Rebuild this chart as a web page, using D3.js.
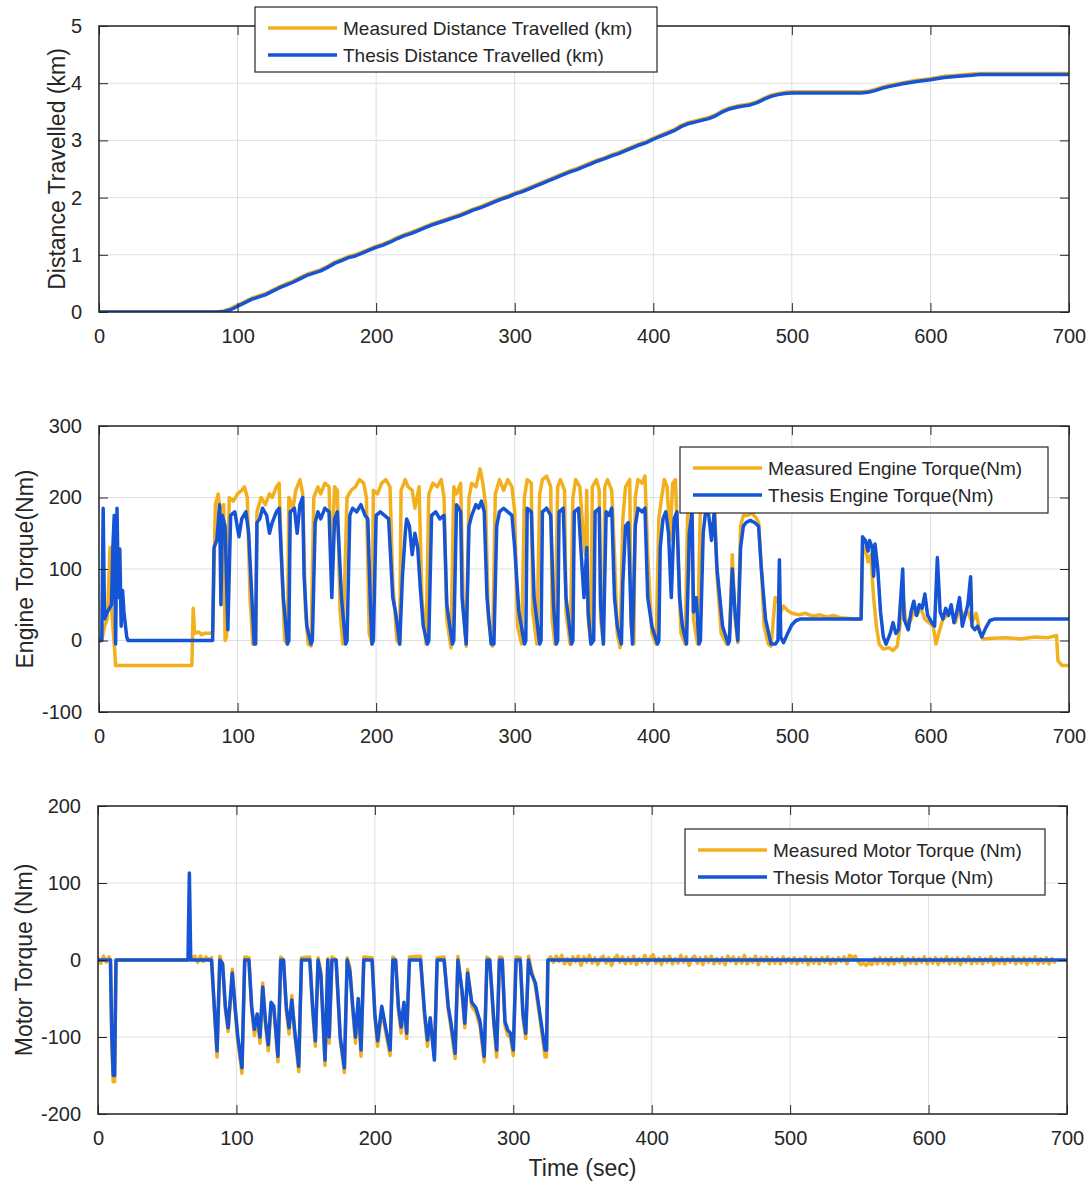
<!DOCTYPE html>
<html>
<head>
<meta charset="utf-8">
<title>Measured vs Thesis</title>
<script src="https://cdn.jsdelivr.net/npm/d3@7"></script>
<style>
  body { margin: 0; background: #fff; }
  text { font-family: "Liberation Sans", Arial, sans-serif; fill: #262626; }
</style>
</head>
<body>
<script>

// ---- data (time in sec) ----

var timeTicks = [0, 100, 200, 300, 400, 500, 600, 700];
var distTicks = [0, 1, 2, 3, 4, 5];
var engineTicks = [-100, 0, 100, 200, 300];
var motorTicks = [-200, -100, 0, 100, 200];

var distMeasured = [[0,0],[85,0],[90,0.02],[95,0.06],[100,0.12],[105,0.18],[110,0.24],[115,0.28],[120,0.32],[125,0.38],[130,0.44],[135,0.49],[140,0.54],[145,0.6],[150,0.66],[155,0.7],[160,0.74],[165,0.8],[170,0.87],[175,0.92],[180,0.97],[185,1.0],[190,1.05],[195,1.1],[200,1.15],[205,1.19],[210,1.24],[215,1.3],[220,1.35],[225,1.39],[230,1.44],[235,1.49],[240,1.54],[245,1.58],[250,1.62],[255,1.66],[260,1.7],[265,1.75],[270,1.8],[275,1.84],[280,1.89],[285,1.94],[290,1.99],[295,2.03],[300,2.08],[305,2.12],[310,2.17],[315,2.22],[320,2.27],[325,2.32],[330,2.37],[335,2.42],[340,2.47],[345,2.51],[350,2.56],[355,2.61],[360,2.66],[365,2.7],[370,2.75],[375,2.79],[380,2.84],[385,2.89],[390,2.94],[395,2.98],[400,3.04],[405,3.09],[410,3.14],[415,3.19],[420,3.26],[425,3.31],[430,3.34],[435,3.37],[440,3.4],[445,3.45],[450,3.52],[455,3.57],[460,3.6],[465,3.62],[470,3.64],[475,3.68],[480,3.74],[485,3.79],[490,3.82],[495,3.84],[500,3.85],[550,3.85],[555,3.86],[560,3.89],[565,3.93],[570,3.96],[580,4.01],[590,4.05],[600,4.08],[610,4.12],[620,4.14],[630,4.16],[635,4.17],[700,4.17]];

var distThesis = [[0,0],[85,0],[90,0.01],[95,0.04],[100,0.1],[105,0.16],[110,0.22],[115,0.26],[120,0.3],[125,0.36],[130,0.42],[135,0.47],[140,0.52],[145,0.58],[150,0.64],[155,0.68],[160,0.72],[165,0.78],[170,0.85],[175,0.9],[180,0.95],[185,0.98],[190,1.03],[195,1.08],[200,1.13],[205,1.17],[210,1.22],[215,1.28],[220,1.33],[225,1.37],[230,1.42],[235,1.47],[240,1.52],[245,1.56],[250,1.6],[255,1.64],[260,1.68],[265,1.73],[270,1.78],[275,1.82],[280,1.87],[285,1.92],[290,1.97],[295,2.01],[300,2.06],[305,2.1],[310,2.15],[315,2.2],[320,2.25],[325,2.3],[330,2.35],[335,2.4],[340,2.45],[345,2.49],[350,2.54],[355,2.59],[360,2.64],[365,2.68],[370,2.73],[375,2.77],[380,2.82],[385,2.87],[390,2.92],[395,2.96],[400,3.02],[405,3.07],[410,3.12],[415,3.17],[420,3.24],[425,3.29],[430,3.32],[435,3.35],[440,3.38],[445,3.43],[450,3.5],[455,3.55],[460,3.58],[465,3.6],[470,3.62],[475,3.66],[480,3.72],[485,3.77],[490,3.8],[495,3.82],[500,3.83],[550,3.83],[555,3.84],[560,3.87],[565,3.91],[570,3.94],[580,3.99],[590,4.03],[600,4.06],[610,4.1],[620,4.12],[630,4.14],[635,4.15],[700,4.15]];

var engMeasured = [[0,0],[2,0],[4,20],[6,30],[8,130],[9,45],[11,-5],[12,-35],[67,-35],[68,45],[69,10],[72,12],[74,8],[76,10],[80,10],[82,12],[84,190],[86,205],[88,170],[90,190],[91,0],[92,5],[94,200],[97,195],[100,205],[103,210],[105,215],[107,200],[109,60],[111,-5],[113,-5],
[114,180],[117,200],[120,190],[123,205],[125,200],[128,215],[130,220],[132,100],[134,0],[136,-5],
[137,200],[140,185],[142,210],[145,225],[147,205],[149,40],[151,-5],[153,-8],
[155,200],[158,215],[160,205],[163,220],[166,215],[168,100],[170,215],[172,210],[174,40],[176,-5],
[179,200],[182,210],[185,215],[188,225],[191,220],[193,200],[195,10],[197,-5],
[198,210],[201,205],[204,220],[207,225],[210,215],[212,80],[215,0],[217,-5],
[218,210],[221,225],[223,215],[226,210],[228,185],[231,215],[233,60],[236,-5],
[238,205],[241,220],[244,215],[247,225],[249,200],[251,30],[254,-10],
[256,215],[258,205],[261,220],[263,40],[265,-8],
[267,200],[269,220],[272,215],[275,240],[277,220],[279,190],[281,30],[284,-8],
[286,205],[289,225],[292,210],[295,225],[298,215],[300,180],[302,20],[305,-5],
[307,200],[309,225],[312,220],[313,40],[316,-5],
[318,205],[320,225],[323,230],[326,215],[327,30],[329,-5],
[331,215],[333,225],[336,210],[337,40],[340,-5],
[342,200],[344,225],[347,215],[349,160],[351,120],[352,210],[353,30],[355,-5],
[356,215],[359,225],[361,210],[362,30],[364,-5],
[365,215],[367,225],[370,210],[372,120],[374,10],[376,-10],
[378,170],[380,215],[383,225],[384,20],[386,-5],
[387,200],[389,225],[392,220],[394,230],[396,120],[399,10],[402,-5],
[404,170],[406,200],[408,225],[410,215],[412,140],[414,220],[416,225],[418,110],[420,10],[423,-5],
[425,200],[427,225],[429,30],[432,-5],
[434,190],[436,215],[438,225],[440,205],[442,180],[444,200],[446,90],[449,10],[453,-5],
[455,10],[457,120],[459,30],[461,-3],[463,160],[465,175],[468,175],[471,178],[474,172],[476,165],[478,100],[480,20],[483,-5],[485,-8],
[488,60],[490,55],[492,40],[494,48],[497,42],[500,38],[505,36],[510,38],[515,34],[520,36],[525,33],[530,35],[535,32],[540,31],[545,30],[550,30],
[551,120],[553,130],[555,110],[557,120],[559,60],[561,20],[563,-5],[566,-12],[570,-10],[573,-14],[576,-8],[578,20],[580,70],[582,30],[585,25],[588,40],[590,35],[593,45],[596,30],[599,25],[602,20],[604,-5],[606,10],[609,30],[612,35],[615,40],[618,25],[621,45],[624,35],[627,40],[630,25],[633,38],[636,10],[638,2],[645,3],[655,4],[665,2],[675,5],[685,4],[691,7],[692,-28],[695,-35],[700,-35]];

var engThesis = [[0,0],[2,0],[3,185],[4,30],[6,40],[9,50],[10,130],[11,175],[12,-5],[13,185],[14,60],[15,128],[16,20],[17,70],[18,40],[20,5],[21,0],[82,0],
[83,130],[85,140],[87,190],[88,50],[89,175],[91,160],[93,15],[95,175],[98,180],[101,145],[103,170],[106,180],[108,150],[112,-5],[113,-5],
[114,165],[116,170],[118,185],[121,175],[123,150],[125,165],[128,180],[130,185],[133,60],[136,-5],
[137,0],[138,180],[141,185],[143,150],[145,190],[147,200],[148,90],[150,20],[153,-5],
[154,0],[156,165],[158,180],[160,170],[163,185],[166,180],[168,60],[170,170],[172,180],[175,60],[178,-5],
[179,0],[181,175],[183,185],[186,180],[189,190],[192,175],[194,170],[196,40],[197,-5],
[198,0],[200,175],[203,180],[206,175],[209,170],[212,60],[214,40],[217,-5],
[219,90],[221,150],[222,170],[224,160],[226,120],[228,150],[230,130],[232,70],[234,20],[237,-5],
[238,0],[240,175],[243,180],[246,170],[249,175],[251,50],[255,-5],
[256,0],[258,190],[261,180],[262,60],[265,-5],
[267,160],[269,175],[272,190],[274,185],[276,195],[278,180],[280,60],[283,-5],[285,-5],
[287,160],[289,180],[292,185],[295,180],[298,175],[300,130],[303,40],[307,-5],
[308,0],[309,185],[312,180],[314,60],[318,-5],
[319,0],[320,180],[323,185],[326,175],[328,50],[330,-5],
[331,0],[332,180],[335,185],[337,60],[341,-5],
[342,0],[343,180],[346,185],[348,120],[350,60],[352,130],[353,40],[355,-5],
[357,0],[358,180],[361,185],[362,50],[364,-5],
[366,180],[368,175],[370,185],[372,60],[374,20],[377,-5],
[378,80],[380,160],[382,165],[384,30],[385,-5],
[387,160],[389,185],[392,180],[394,185],[396,60],[399,20],[403,-5],
[404,0],[405,130],[407,170],[409,180],[411,150],[413,60],[415,170],[417,180],[419,60],[421,20],[424,-5],
[426,150],[428,180],[429,40],[431,60],[433,-5],
[434,0],[436,150],[438,185],[440,175],[442,140],[444,180],[446,100],[450,20],[454,-5],
[455,0],[457,100],[459,40],[461,0],[463,130],[465,160],[467,165],[470,168],[473,165],[476,160],[478,100],[481,30],[485,-5],
[488,-5],[490,0],[491,113],[492,5],[494,-3],[497,10],[500,22],[503,28],[506,30],[550,30],
[551,145],[553,140],[555,125],[556,140],[558,130],[559,90],[560,135],[562,100],[564,40],[566,5],[568,-5],[571,10],[573,25],[575,10],[577,15],[580,100],[581,30],[584,15],[586,40],[588,55],[590,35],[592,50],[594,45],[596,65],[598,35],[601,25],[603,20],[605,116],[607,40],[609,30],[611,45],[613,35],[615,50],[617,25],[619,40],[621,60],[623,20],[625,35],[627,50],[629,89],[630,20],[632,15],[634,20],[637,5],[640,18],[643,28],[646,30],[700,30]];

var motMeasured = [[0,3],[2,-4],[4,5],[6,-3],[8,4],[9,0],[10,-110],[11,-158],[12,-158],[13,0],[15,0],[65,0],[68,2],[70,5],[72,-3],[74,5],[76,-2],[78,4],[80,0],[82,3],
[84,-65],[86,-126],[88,5],[90,-5],[92,-65],[94,-93],[96,-45],[97,-12],[99,-65],[101,-105],[104,-147],[106,4],[109,3],[111,-65],[113,-98],[115,-75],[117,-108],[119,-30],[121,-85],[123,-118],[125,-60],[127,-65],[130,-132],[132,4],[134,0],[136,-65],[138,-96],[140,-46],[142,-95],[145,-145],[147,3],[153,4],[155,-65],[157,-112],[159,3],[161,-15],[164,-137],[166,2],[167,-108],[169,4],[172,0],[175,-105],[178,-146],[180,3],[182,-10],[184,-65],[186,-108],[188,-55],[190,-125],[192,4],[198,3],[200,-75],[202,-112],[205,-65],[208,-95],[211,-124],[213,4],[215,0],[217,-65],[219,-95],[221,-60],[223,-102],[225,4],[233,5],[236,-75],[238,-112],[240,-80],[243,-126],[245,3],[250,4],[253,-65],[255,-88],[258,-128],[260,5],[263,-45],[265,-88],[267,-12],[270,-60],[273,-68],[276,-86],[279,-132],[281,4],[283,0],[286,-85],[288,-126],[290,4],[292,3],[294,-85],[296,-98],[298,-100],[300,-124],[302,4],[305,3],[307,-75],[309,-102],[311,5],[313,-12],[316,-35],[320,-86],[323,-126],[324,-126],[325,0],
[327,4],[329,-3],[331,5],[333,-2],[335,6],[337,-5],[339,2],[341,-6],[343,4],[345,-2],[347,5],[349,-7],[351,4],[353,-3],[355,6],[357,-4],[359,3],[361,-6],[363,2],[365,5],[367,-4],[369,3],[371,-7],[373,2],[375,6],[377,-3],[379,4],[381,-5],[383,3],[385,-4],[387,5],[389,-6],[391,2],[393,-3],[395,6],[397,-5],[399,3],[401,7],[403,-4],[405,2],[407,-6],[409,4],[411,-3],[413,5],[415,-5],[417,2],[419,-4],[421,6],[423,-3],[425,4],[427,-7],[429,2],[431,5],[433,-4],[435,3],[437,-6],[439,4],[441,-3],[443,5],[445,-5],[447,2],[449,-4],[451,3],[453,-6],[455,5],[457,-2],[459,4],[461,-5],[463,3],[465,-4],[467,6],[469,-5],[471,2],[473,-3],[475,5],[477,-6],[479,3],[481,-2],[483,4],[485,-5],[487,3],[489,-4],[491,2],[493,-5],[495,4],[497,-3],[499,2],[501,-4],[503,3],[505,-5],[507,2],[509,-3],[511,4],[513,-6],[515,3],[517,-4],[519,2],[521,-5],[523,3],[525,-3],[527,4],[529,-5],[531,2],[533,-4],[535,3],[537,-2],[539,4],[541,-5],[543,6],[545,3],[547,5],[549,-2],[551,-6],[553,-4],[555,-7],[557,-3],[559,-6],[561,2],[563,-5],[565,3],[567,-4],[569,2],[571,-6],[573,3],[575,-5],[577,2],[579,-3],[581,4],[583,-6],[585,2],[587,-4],[589,3],[591,-5],[593,2],[595,-3],[597,4],[599,-5],[601,2],[603,-4],[605,3],[607,-6],[609,2],[611,-3],[613,4],[615,-5],[617,2],[619,-4],[621,3],[623,-6],[625,2],[627,-3],[629,4],[631,-5],[633,2],[635,-4],[637,3],[639,-5],[641,2],[643,-3],[645,4],[647,-6],[649,2],[651,-4],[653,3],[655,-5],[657,2],[659,-3],[661,4],[663,-5],[665,2],[667,-4],[669,3],[671,-6],[673,2],[675,-3],[677,4],[679,-5],[681,2],[683,-4],[685,3],[687,-5],[689,2],[691,-3],[692,1]];

var motThesis = [[0,0],[9,0],[10,-100],[11,-150],[12,-150],[13,0],[65,0],[66,113],[67,0],[82,0],
[84,-60],[86,-118],[88,0],[90,-5],[92,-60],[94,-88],[96,-40],[97,-17],[99,-60],[101,-100],[104,-140],[106,0],[109,0],[111,-60],[113,-90],[115,-70],[117,-100],[119,-35],[121,-80],[123,-110],[125,-55],[127,-60],[130,-125],[132,0],[134,0],[136,-60],[138,-88],[140,-52],[142,-90],[145,-138],[147,0],[153,0],[155,-60],[157,-105],[159,0],[161,-20],[164,-130],[166,0],[167,-100],[169,0],[172,0],[175,-100],[178,-140],[180,0],[182,-15],[184,-60],[186,-100],[188,-50],[190,-117],[192,0],[198,0],[200,-70],[202,-105],[205,-60],[208,-90],[211,-117],[213,0],[215,0],[217,-60],[219,-87],[221,-55],[223,-95],[225,0],[233,0],[236,-70],[238,-104],[240,-75],[243,-130],[245,0],[250,0],[253,-60],[255,-82],[258,-121],[260,0],[263,-40],[265,-82],[267,-17],[270,-55],[273,-62],[276,-80],[279,-125],[281,0],[283,0],[286,-80],[288,-117],[290,0],[292,0],[294,-80],[296,-91],[298,-95],[300,-117],[302,0],[305,0],[307,-70],[309,-95],[311,0],[313,-17],[316,-30],[320,-80],[323,-117],[324,-117],[325,0],[700,0]];

// ---- drawing ----

var W = 1090, H = 1186;
var measuredColor = "#f2b01e";
var thesisColor = "#1654d6";
var fmt = function(d) { return String(d); }; // plain hyphen minus, like matlab

var svg = d3.select("body").append("svg")
  .attr("width", W)
  .attr("height", H);

// one subplot
function drawPanel(p) {
  var x = d3.scaleLinear().domain([0, 700]).range([p.left, p.right]);
  var y = d3.scaleLinear().domain(p.yDomain).range([p.bottom, p.top]);

  var g = svg.append("g");

  // clip so the traces stay in the box
  g.append("clipPath").attr("id", p.id + "-clip")
    .append("rect")
    .attr("x", p.left).attr("y", p.top)
    .attr("width", p.right - p.left).attr("height", p.bottom - p.top);

  // grid
  g.selectAll(".vgrid").data(timeTicks).enter().append("line")
    .attr("x1", d => x(d)).attr("x2", d => x(d))
    .attr("y1", p.top).attr("y2", p.bottom)
    .attr("stroke", "#dedede").attr("stroke-width", 1);
  g.selectAll(".hgrid").data(p.yTicks).enter().append("line")
    .attr("y1", d => y(d)).attr("y2", d => y(d))
    .attr("x1", p.left).attr("x2", p.right)
    .attr("stroke", "#dedede").attr("stroke-width", 1);

  // traces
  var line = d3.line().x(d => x(d[0])).y(d => y(d[1]));
  var traces = g.append("g").attr("clip-path", "url(#" + p.id + "-clip)");
  traces.append("path").datum(p.measured)
    .attr("d", line).attr("fill", "none")
    .attr("stroke", measuredColor).attr("stroke-width", 3.5)
    .attr("stroke-linejoin", "round");
  traces.append("path").datum(p.thesis)
    .attr("d", line).attr("fill", "none")
    .attr("stroke", thesisColor).attr("stroke-width", 3.5)
    .attr("stroke-linejoin", "round");

  // axes, ticks pointing inward like matlab
  var tl = 9;
  g.append("g").attr("transform", "translate(0," + p.bottom + ")")
    .call(d3.axisBottom(x).tickValues(timeTicks).tickSizeInner(-tl).tickSizeOuter(0).tickPadding(tl + 8).tickFormat(fmt));
  g.append("g").attr("transform", "translate(0," + p.top + ")")
    .call(d3.axisTop(x).tickValues(timeTicks).tickSizeInner(-tl).tickSizeOuter(0).tickFormat(""));
  g.append("g").attr("transform", "translate(" + p.left + ",0)")
    .call(d3.axisLeft(y).tickValues(p.yTicks).tickSizeInner(-tl).tickSizeOuter(0).tickPadding(tl + 8).tickFormat(fmt));
  g.append("g").attr("transform", "translate(" + p.right + ",0)")
    .call(d3.axisRight(y).tickValues(p.yTicks).tickSizeInner(-tl).tickSizeOuter(0).tickFormat(""));

  g.selectAll(".domain").remove();
  g.selectAll(".tick line").attr("stroke", "#262626").attr("stroke-width", 1);
  g.selectAll(".tick text")
    .attr("font-family", "Liberation Sans, Arial, sans-serif")
    .attr("font-size", 20).attr("fill", "#333");

  g.append("rect")
    .attr("x", p.left).attr("y", p.top)
    .attr("width", p.right - p.left).attr("height", p.bottom - p.top)
    .attr("fill", "none").attr("stroke", "#262626").attr("stroke-width", 1.5);

  // y label
  g.append("text")
    .attr("transform", "translate(" + p.labelX + "," + ((p.top + p.bottom) / 2) + ") rotate(-90)")
    .attr("text-anchor", "middle")
    .attr("dy", "0.35em")
    .attr("font-size", 23)
    .text(p.yLabel);

  // legend
  var L = p.legend;
  var lg = g.append("g");
  lg.append("rect")
    .attr("x", L.x).attr("y", L.y).attr("width", L.w).attr("height", L.h)
    .attr("fill", "#fff").attr("stroke", "#262626").attr("stroke-width", 1.2);
  var items = [
    { name: L.names[0], color: measuredColor },
    { name: L.names[1], color: thesisColor }
  ];
  items.forEach(function(it, i) {
    var yy = L.y + 21 + i * 27;
    lg.append("line")
      .attr("x1", L.x + 13).attr("x2", L.x + 82)
      .attr("y1", yy).attr("y2", yy)
      .attr("stroke", it.color).attr("stroke-width", 3.5);
    lg.append("text")
      .attr("x", L.x + 88).attr("y", yy)
      .attr("dy", "0.36em")
      .attr("font-size", 19)
      .text(it.name);
  });

  return x;
}

drawPanel({
  id: "dist", left: 99, right: 1069, top: 26, bottom: 312,
  yDomain: [0, 5], yTicks: distTicks, labelX: 57,
  yLabel: "Distance Travelled (km)",
  measured: distMeasured, thesis: distThesis,
  legend: { x: 255, y: 7, w: 402, h: 65,
    names: ["Measured Distance Travelled (km)", "Thesis Distance Travelled (km)"] }
});

drawPanel({
  id: "eng", left: 99, right: 1069, top: 426, bottom: 712,
  yDomain: [-100, 300], yTicks: engineTicks, labelX: 25,
  yLabel: "Engine Torque(Nm)",
  measured: engMeasured, thesis: engThesis,
  legend: { x: 680, y: 447, w: 368, h: 66,
    names: ["Measured Engine Torque(Nm)", "Thesis Engine Torque(Nm)"] }
});

var xBottom = drawPanel({
  id: "mot", left: 98, right: 1067, top: 806, bottom: 1114,
  yDomain: [-200, 200], yTicks: motorTicks, labelX: 24,
  yLabel: "Motor Torque (Nm)",
  measured: motMeasured, thesis: motThesis,
  legend: { x: 685, y: 829, w: 360, h: 66,
    names: ["Measured Motor Torque (Nm)", "Thesis Motor Torque (Nm)"] }
});

svg.append("text")
  .attr("x", xBottom(350)).attr("y", 1176)
  .attr("text-anchor", "middle")
  .attr("font-size", 23)
  .text("Time (sec)");

</script>
</body>
</html>
